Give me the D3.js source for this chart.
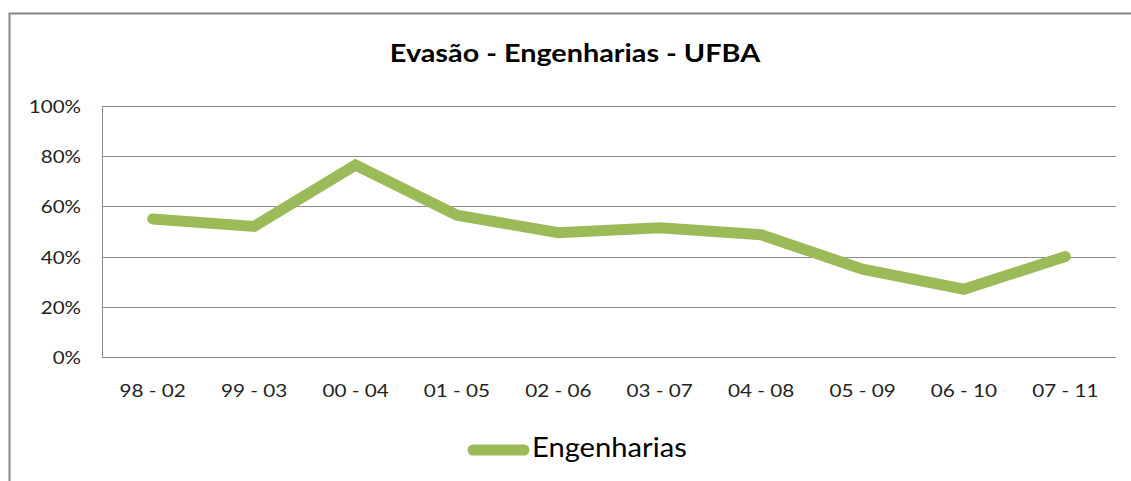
<!DOCTYPE html>
<html>
<head>
<meta charset="utf-8">
<script src="https://cdn.jsdelivr.net/npm/d3@7"></script>
<style>
  body { margin: 0; background: #fff; }
  svg text { font-family: Lato, "Open Sans", sans-serif; fill: #000; }
</style>
</head>
<body>
<div id="chart"></div>
<script>
// data
var periods = ["98 - 02", "99 - 03", "00 - 04", "01 - 05", "02 - 06", "03 - 07", "04 - 08", "05 - 09", "06 - 10", "07 - 11"];
var evasao = [0.55, 0.52, 0.765, 0.565, 0.495, 0.515, 0.487, 0.35, 0.27, 0.40];
var yTicks = [0, 0.2, 0.4, 0.6, 0.8, 1.0];
var seriesName = "Engenharias";
var chartTitle = "Evasão - Engenharias - UFBA";

var width = 1131, height = 481;
var plot = { left: 102, right: 1116, top: 106, bottom: 357 };
var green = "#9bbb59";

var svg = d3.select('#chart').append('svg')
    .attr('width', width)
    .attr('height', height);

// the original picture is stretched sideways, so the text is too
function place(x, y, sx) {
    return 'translate(' + x + ',' + y + ') scale(' + sx + ',1)';
}

// outer chart frame (cropped on right and bottom)
svg.append('path')
    .attr('d', 'M9.5,' + height + ' V13.5 H' + width)
    .attr('fill', 'none')
    .attr('stroke', '#868686')
    .attr('stroke-width', 2);

// title
svg.append('text')
    .attr('transform', place(575, 62, 1.2))
    .attr('text-anchor', 'middle')
    .style('font-size', '24px')
    .style('font-weight', 'bold')
    .text(chartTitle);

var x = d3.scaleBand()
    .domain(periods)
    .range([plot.left, plot.right]);

var y = d3.scaleLinear()
    .domain([0, 1])
    .range([plot.bottom, plot.top]);

// gridlines
svg.append('g')
    .selectAll('line')
    .data(yTicks)
    .enter().append('line')
    .attr('x1', plot.left)
    .attr('x2', plot.right)
    .attr('y1', function (d) { return Math.round(y(d)) + 0.5; })
    .attr('y2', function (d) { return Math.round(y(d)) + 0.5; })
    .style('stroke', '#8c8c8c')
    .style('stroke-width', 1);

// left axis line
svg.append('line')
    .attr('x1', plot.left + 0.5)
    .attr('x2', plot.left + 0.5)
    .attr('y1', plot.top)
    .attr('y2', plot.bottom)
    .style('stroke', '#8c8c8c')
    .style('stroke-width', 1);

// y labels
svg.append('g')
    .selectAll('text')
    .data(yTicks)
    .enter().append('text')
    .attr('transform', function (d) { return place(81, y(d) + 7, 1.14); })
    .attr('text-anchor', 'end')
    .style('font-size', '18px')
    .style('fill', '#222')
    .text(d3.format('.0%'));

// x labels
svg.append('g')
    .selectAll('text')
    .data(periods)
    .enter().append('text')
    .attr('transform', function (d) { return place(x(d) + x.bandwidth() / 2, 397, 1.15); })
    .attr('text-anchor', 'middle')
    .style('font-size', '18px')
    .style('fill', '#222')
    .text(function (d) { return d; });

// the series
var line = d3.line()
    .x(function (d, i) { return x(periods[i]) + x.bandwidth() / 2; })
    .y(function (d) { return y(d); });

svg.append('path')
    .datum(evasao)
    .attr('d', line)
    .attr('fill', 'none')
    .attr('stroke', green)
    .attr('stroke-width', 11)
    .attr('stroke-linecap', 'round')
    .attr('stroke-linejoin', 'miter');

// legend
svg.append('line')
    .attr('x1', 473)
    .attr('x2', 524)
    .attr('y1', 450)
    .attr('y2', 450)
    .attr('stroke', green)
    .attr('stroke-width', 11)
    .attr('stroke-linecap', 'round');

svg.append('text')
    .attr('transform', place(532, 457, 1.08))
    .style('font-size', '27px')
    .text(seriesName);
</script>
</body>
</html>
